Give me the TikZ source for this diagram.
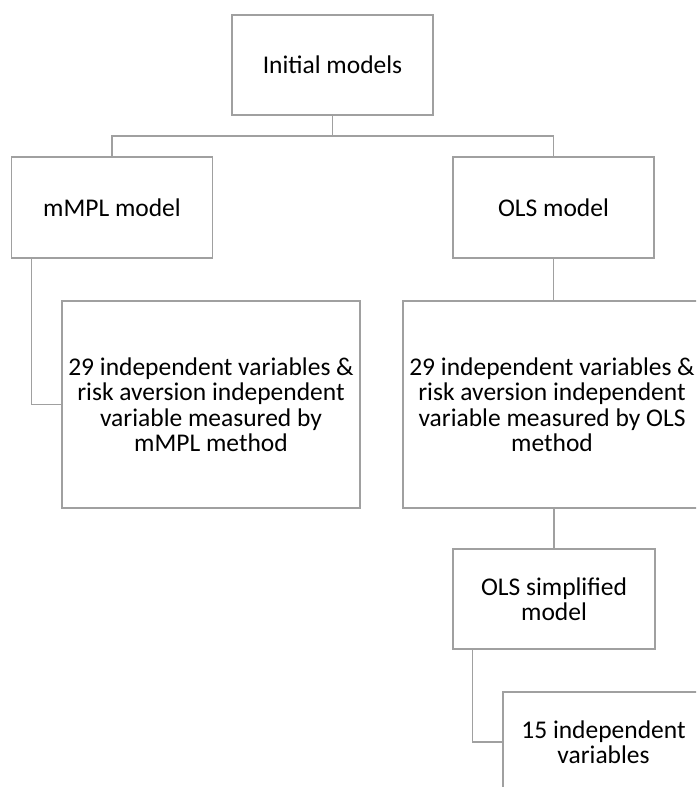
\documentclass[tikz,border=0pt]{standalone}
\usepackage{fontspec}
\setmainfont{Carlito}
\definecolor{linegray}{RGB}{160,160,160}
\tikzset{
  box/.style={draw=linegray, line width=1.3pt, rectangle, inner sep=0pt, align=center,
    font=\fontsize{25.5}{25.5}\selectfont, text=black},
  conn/.style={draw=linegray, line width=1.3pt}
}
\begin{document}
\begin{tikzpicture}[x=1pt,y=-1pt]
\useasboundingbox (0,0) rectangle (696,787);
\clip (0,0) rectangle (696,787);
\node[box, minimum width=201pt, minimum height=100pt] (init) at (332.5,65) {Initial models};
\node[box, minimum width=201pt, minimum height=101pt] (mmpl) at (112,207.5) {mMPL model};
\node[box, minimum width=201pt, minimum height=101pt] (ols) at (553.5,207.5) {OLS model};
\node[box, minimum width=298pt, minimum height=207pt] (v1) at (211,404.5) {29 independent variables \&\\risk aversion independent\\variable measured by\\mMPL method};
\node[box, minimum width=298pt, minimum height=207pt] (v2) at (552,404.5) {29 independent variables \&\\risk aversion independent\\variable measured by OLS\\method};
\node[box, minimum width=202pt, minimum height=100pt] (simp) at (554,599) {OLS simplified\\model};
\node[box, minimum width=201pt, minimum height=100pt] (v3) at (603.5,742) {15 independent\\variables};
\coordinate (bus) at (332.5,136);
\draw[conn] (init.south) -- (bus) -| (mmpl.north);
\draw[conn] (bus) -| (ols.north);
\draw[conn] ([xshift=20.5pt]mmpl.south west) |- (v1.west);
\draw[conn] (ols.south) -- (ols.south |- v2.north);
\draw[conn] (simp.north |- v2.south) -- (simp.north);
\draw[conn] ([xshift=20pt]simp.south west) |- (v3.west);
\end{tikzpicture}
\end{document}
